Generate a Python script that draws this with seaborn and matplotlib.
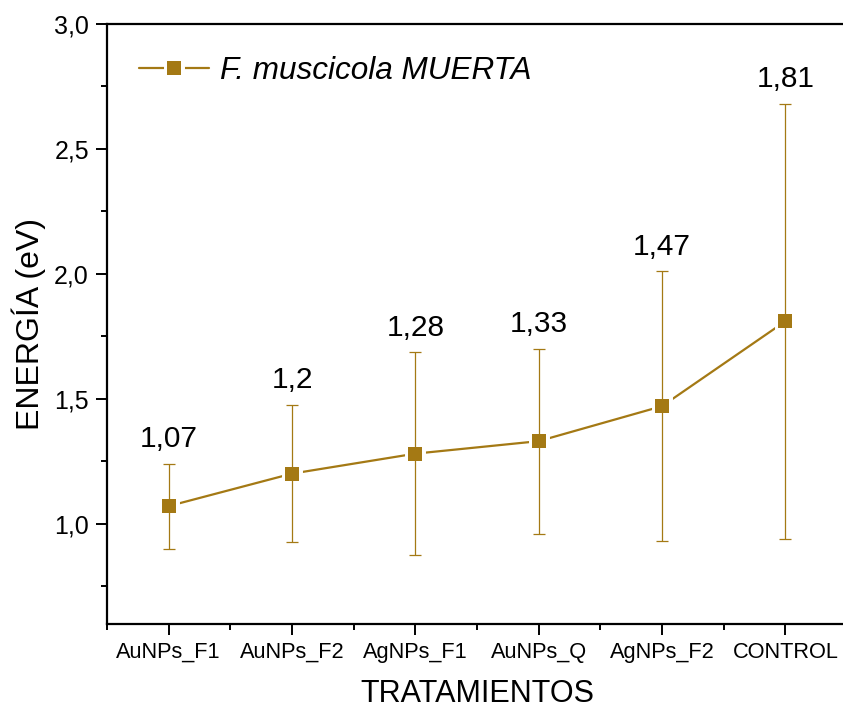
import numpy as np
import pandas as pd
import matplotlib
matplotlib.use("Agg")
import matplotlib.pyplot as plt
from matplotlib.lines import Line2D
from matplotlib.ticker import MultipleLocator
import seaborn as sns

# Treatments, mean energy and standard deviation
tratamientos = ["AuNPs_F1", "AuNPs_F2", "AgNPs_F1", "AuNPs_Q", "AgNPs_F2", "CONTROL"]
media = [1.07, 1.2, 1.28, 1.33, 1.47, 1.81]
desv = [0.17, 0.275, 0.405, 0.37, 0.54, 0.87]
serie = "F. muscicola MUERTA"

color = "#A47914"

sns.set_theme(style="ticks")
plt.rcParams["font.family"] = ["Liberation Sans", "DejaVu Sans"]
plt.rcParams["text.color"] = "black"
plt.rcParams["axes.labelcolor"] = "black"

df = pd.DataFrame({"trat": tratamientos, "energia": media, "sd": desv})
xpos = np.arange(len(df))

fig = plt.figure(figsize=(8.43, 7.08), dpi=100)
ax = fig.add_axes([107 / 843, (708 - 623.5) / 708, (847 - 107) / 843, (623.5 - 24) / 708])

# connecting line
sns.lineplot(data=df, x="trat", y="energia", sort=False, color=color, lw=1.6,
             ax=ax, zorder=1, legend=False)
# white halo around each marker so the line stops short of it
ax.plot(xpos, df["energia"], "s", ms=9.4, mfc="white", mec="white", mew=5, zorder=2)
# standard deviation bars
ax.errorbar(xpos, df["energia"], yerr=df["sd"], fmt="none", ecolor=color,
            elinewidth=0.9, capsize=4, capthick=0.9, zorder=3)
# square markers
sns.scatterplot(data=df, x="trat", y="energia", marker="s", s=90, color=color,
                edgecolor=color, linewidth=0, ax=ax, zorder=4, legend=False)

# value labels above each bar
for xi, m, s in zip(xpos, df["energia"], df["sd"]):
    ax.annotate(str(m).replace(".", ","), (xi, m + s), xytext=(0, 12),
                textcoords="offset points", ha="center", va="baseline", fontsize=21.5)

ax.set_xlim(-0.5, 5.5)
ax.set_ylim(0.6, 3.0)
ax.yaxis.set_major_locator(MultipleLocator(0.5))
ax.yaxis.set_minor_locator(MultipleLocator(0.25))
ax.set_xticks(xpos)
ax.set_xticks(np.arange(-0.5, 5.6, 1.0), minor=True)
ax.set_xticklabels(tratamientos)
ax.yaxis.set_major_formatter(plt.FuncFormatter(lambda v, p: f"{v:.1f}".replace(".", ",")))

for side in ["left", "bottom", "top"]:
    ax.spines[side].set_linewidth(1.6)
    ax.spines[side].set_color("black")
ax.spines["right"].set_visible(False)

ax.tick_params(axis="both", which="major", direction="out", length=8, width=1.4,
               color="black", labelcolor="black", pad=5)
ax.tick_params(axis="both", which="minor", direction="out", length=4, width=1.4,
               color="black")
ax.tick_params(axis="y", labelsize=18)
ax.tick_params(axis="x", labelsize=15.7)

ax.set_xlabel("TRATAMIENTOS", fontsize=22, labelpad=11.5)
ax.set_ylabel("ENERGÍA (eV)", fontsize=23, labelpad=6)

# legend: line with gap around the marker
h_line = Line2D([], [], color=color, lw=1.6)
h_halo = Line2D([], [], ls="none", marker="s", ms=9.4, mfc="white", mec="white", mew=5)
h_mark = Line2D([], [], ls="none", marker="s", ms=9.4, color=color, mew=0)
leg = ax.legend([(h_line, h_halo, h_mark)], [serie], loc="upper left",
                bbox_to_anchor=(0.0, 1.0), frameon=False, handlelength=2.2,
                handletextpad=0.35, borderaxespad=0.62,
                prop={"size": 22.7, "style": "italic"})

fig.savefig("out.png", dpi=100)
